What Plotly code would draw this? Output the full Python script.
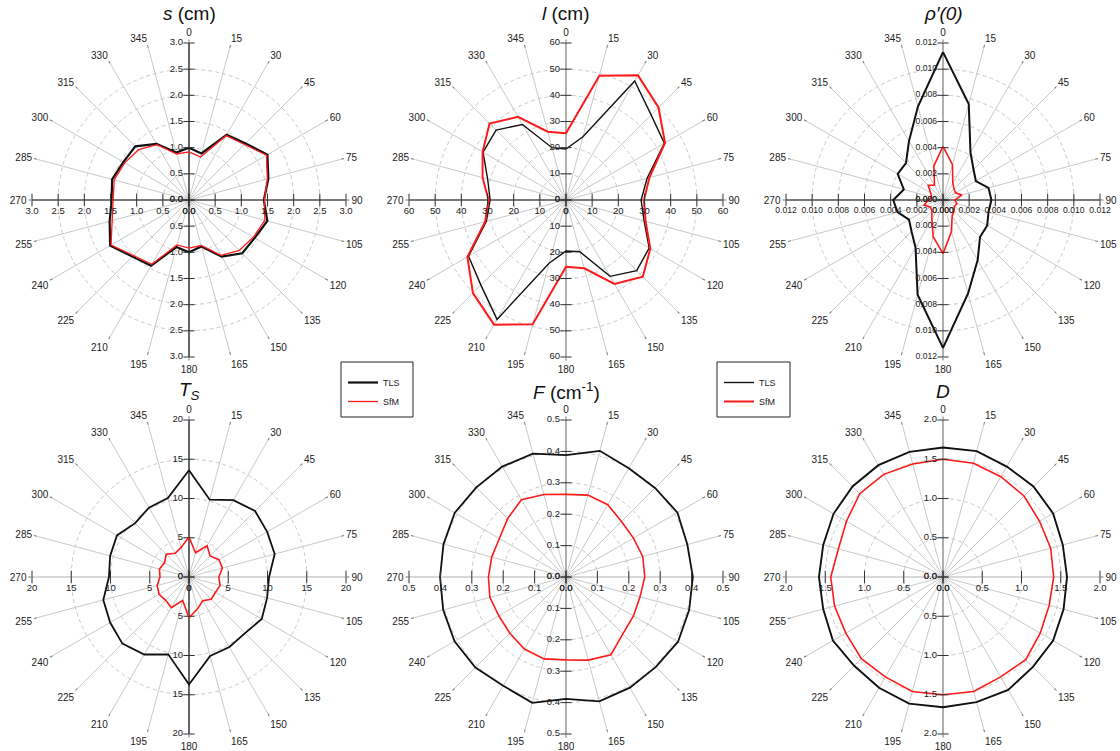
import plotly.graph_objects as go

# ---------------------------------------------------------------------------
# Directions (degrees, clockwise from north) and directional statistics
# ---------------------------------------------------------------------------
ANGLES = list(range(0, 360, 15))
ANGLE_LABELS = [str(a) for a in ANGLES]

# s (cm)
s_tls = [1.00, 0.92, 1.44, 1.53, 1.73, 1.57, 1.43, 1.55, 1.45, 1.44, 1.25, 0.92,
         1.00, 0.93, 1.45, 1.53, 1.74, 1.57, 1.48, 1.52, 1.45, 1.45, 1.24, 0.94]
s_sfm = [0.92, 0.85, 1.42, 1.50, 1.71, 1.55, 1.44, 1.50, 1.42, 1.36, 1.22, 0.90,
         0.92, 0.89, 1.42, 1.50, 1.72, 1.52, 1.45, 1.48, 1.42, 1.36, 1.22, 0.91]

# l (cm)
l_tls = [19.5, 25.0, 52.5, 46.0, 43.4, 32.1, 28.7, 30.9, 36.7, 38.2, 33.7, 20.5,
         19.5, 25.0, 52.7, 46.0, 43.0, 31.5, 29.0, 31.0, 36.6, 37.8, 33.3, 20.7]
l_sfm = [25.5, 49.2, 55.0, 50.0, 43.7, 33.0, 29.8, 31.5, 37.2, 41.5, 37.0, 27.0,
         25.5, 49.2, 55.0, 50.3, 43.5, 32.0, 29.6, 33.0, 36.8, 41.3, 36.7, 27.0]

# rho'(0)
rho_tls = [0.0113, 0.0076, 0.0042, 0.0033, 0.0029, 0.0036, 0.0037, 0.0036,
           0.0039, 0.0040, 0.0053, 0.0074, 0.0113, 0.0075, 0.0042, 0.0034,
           0.0030, 0.0036, 0.0038, 0.0031, 0.0040, 0.0040, 0.0052, 0.0074]
rho_sfm = [0.0041, 0.0028, 0.0015, 0.0012, 0.0011, 0.0015, 0.0009, 0.0011,
           0.0010, 0.0012, 0.0014, 0.0025, 0.0041, 0.0029, 0.0017, 0.0012,
           0.0011, 0.0015, 0.0011, 0.0009, 0.0011, 0.0016, 0.0013, 0.0027]

# T_S
ts_tls = [13.6, 10.2, 11.3, 11.9, 11.5, 11.3, 10.2, 10.3, 10.7, 10.1, 10.3, 10.4,
          13.7, 10.2, 11.4, 12.0, 11.6, 11.3, 10.2, 10.4, 10.6, 9.7, 10.2, 10.4]
ts_sfm = [5.1, 3.2, 4.6, 3.8, 4.4, 4.4, 3.8, 4.1, 3.9, 4.0, 3.5, 4.2,
          5.2, 3.1, 4.5, 4.2, 4.4, 4.2, 3.7, 3.9, 3.6, 4.1, 3.5, 3.9]

# F (cm^-1)
f_tls = [0.388, 0.416, 0.400, 0.401, 0.410, 0.400, 0.404, 0.406, 0.412, 0.405, 0.407, 0.410,
         0.388, 0.415, 0.400, 0.408, 0.410, 0.405, 0.401, 0.404, 0.409, 0.404, 0.406, 0.407]
f_sfm = [0.263, 0.270, 0.266, 0.250, 0.248, 0.253, 0.251, 0.244, 0.248, 0.256, 0.286, 0.274,
         0.264, 0.270, 0.265, 0.253, 0.247, 0.251, 0.247, 0.245, 0.245, 0.263, 0.284, 0.272]

# D
d_tls = [1.65, 1.66, 1.625, 1.63, 1.62, 1.58, 1.58, 1.59, 1.62, 1.62, 1.66, 1.65,
         1.66, 1.67, 1.63, 1.60, 1.62, 1.58, 1.58, 1.58, 1.61, 1.63, 1.645, 1.65]
d_sfm = [1.50, 1.50, 1.475, 1.46, 1.42, 1.42, 1.41, 1.40, 1.43, 1.49, 1.47, 1.51,
         1.50, 1.51, 1.47, 1.47, 1.43, 1.43, 1.43, 1.38, 1.42, 1.50, 1.51, 1.49]

# Radial tick values and their labels
S_TICKS = [0.0, 0.5, 1.0, 1.5, 2.0, 2.5, 3.0]
S_LABELS = ["0.0", "0.5", "1.0", "1.5", "2.0", "2.5", "3.0"]
L_TICKS = [0, 10, 20, 30, 40, 50, 60]
L_LABELS = ["0", "10", "20", "30", "40", "50", "60"]
RHO_TICKS = [0.0, 0.002, 0.004, 0.006, 0.008, 0.010, 0.012]
RHO_LABELS = ["0.000", "0.002", "0.004", "0.006", "0.008", "0.010", "0.012"]
TS_TICKS = [0, 5, 10, 15, 20]
TS_LABELS = ["0", "5", "10", "15", "20"]
F_TICKS = [0.0, 0.1, 0.2, 0.3, 0.4, 0.5]
F_LABELS = ["0.0", "0.1", "0.2", "0.3", "0.4", "0.5"]
D_TICKS = [0.0, 0.5, 1.0, 1.5, 2.0]
D_LABELS = ["0.0", "0.5", "1.0", "1.5", "2.0"]

SERIES_NAMES = ["TLS", "SfM"]

# ---------------------------------------------------------------------------
# Page geometry
# ---------------------------------------------------------------------------
W, H = 1120, 751
RADIUS = 157
FONT = "Liberation Sans, Arial, sans-serif"
GRID = "#c9c9c9"
BLACK = "#111111"
RED = "#ff1a1a"
MIDGRAY = "#8c8c8c"

panels = [
    dict(name="polar", title="<i>s</i> (cm)", cx=189, cy=200, tls=s_tls, sfm=s_sfm,
         ticks=S_TICKS, labels=S_LABELS, vcol=BLACK, hcol=BLACK,
         wt=2.2, ws=1.3, legend="legend", lsize=9.5),
    dict(name="polar2", title="<i>l</i> (cm)", cx=566, cy=200, tls=l_tls, sfm=l_sfm,
         ticks=L_TICKS, labels=L_LABELS, vcol=MIDGRAY, hcol=BLACK,
         wt=1.4, ws=2.0, legend="legend2", lsize=9.5),
    dict(name="polar3", title="<i>ρ′(0)</i>", cx=943, cy=200, tls=rho_tls, sfm=rho_sfm,
         ticks=RHO_TICKS, labels=RHO_LABELS, vcol=MIDGRAY, hcol=BLACK,
         wt=2.0, ws=1.6, legend=None, lsize=8.6),
    dict(name="polar4", title="<i>T<sub>S</sub></i>", cx=189, cy=577, tls=ts_tls, sfm=ts_sfm,
         ticks=TS_TICKS, labels=TS_LABELS, vcol=BLACK, hcol=GRID,
         wt=1.8, ws=1.6, legend=None, lsize=9.5),
    dict(name="polar5", title="<i>F</i> (cm<sup>-1</sup>)", cx=566, cy=577, tls=f_tls, sfm=f_sfm,
         ticks=F_TICKS, labels=F_LABELS, vcol=MIDGRAY, hcol=GRID,
         wt=1.8, ws=1.6, legend=None, lsize=9.5),
    dict(name="polar6", title="<i>D</i>", cx=943, cy=577, tls=d_tls, sfm=d_sfm,
         ticks=D_TICKS, labels=D_LABELS, vcol=MIDGRAY, hcol=GRID,
         wt=1.9, ws=1.6, legend=None, lsize=9.5),
]

fig = go.Figure()
layout_polars = {}
annotations = []


def closed(values):
    return list(values) + [values[0]]


for p in panels:
    rmax = p["ticks"][-1]
    sub = p["name"]

    # square domain centred on the panel centre
    x0 = (p["cx"] - RADIUS) / W
    x1 = (p["cx"] + RADIUS) / W
    y0 = (H - p["cy"] - RADIUS) / H
    y1 = (H - p["cy"] + RADIUS) / H

    layout_polars[sub] = dict(
        domain=dict(x=[x0, x1], y=[y0, y1]),
        bgcolor="white",
        angularaxis=dict(
            rotation=90, direction="clockwise",
            tickmode="array", tickvals=ANGLES, ticktext=ANGLE_LABELS,
            showgrid=True, gridcolor=GRID, gridwidth=1,
            showline=False,
            ticks="outside", ticklen=3, tickcolor="#777777",
            tickfont=dict(family=FONT, size=10, color="#222222"),
        ),
        radialaxis=dict(
            range=[0, rmax], tickmode="array", tickvals=p["ticks"][1:],
            showgrid=True, gridcolor=GRID, gridwidth=1, griddash="4px,3px",
            showticklabels=False, ticks="", showline=False,
        ),
    )

    # cross-shaped value axes
    fig.add_trace(go.Scatterpolar(
        r=[rmax, 0, rmax], theta=[0, 0, 180], mode="lines",
        line=dict(color=p["vcol"], width=1.2), subplot=sub,
        showlegend=False, hoverinfo="skip"))
    fig.add_trace(go.Scatterpolar(
        r=[rmax, 0, rmax], theta=[90, 90, 270], mode="lines",
        line=dict(color=p["hcol"], width=1.2), subplot=sub,
        showlegend=False, hoverinfo="skip"))

    # data series
    for vals, name, color, width in ((p["tls"], SERIES_NAMES[0], BLACK, p["wt"]),
                                     (p["sfm"], SERIES_NAMES[1], RED, p["ws"])):
        if p["legend"]:
            kw = dict(showlegend=True, legend=p["legend"])
        else:
            kw = dict(showlegend=False)
        fig.add_trace(go.Scatterpolar(
            r=closed(vals), theta=closed(ANGLES), mode="lines", name=name,
            line=dict(color=color, width=width), subplot=sub, **kw))

    # radial tick labels along the four arms
    n = len(p["ticks"])
    for theta, sym, pos, size in ((0, "line-ew", "middle left", 8),
                                  (180, "line-ew", "middle left", 8),
                                  (90, "line-ns", "bottom center", 9),
                                  (270, "line-ns", "bottom center", 9)):
        fig.add_trace(go.Scatterpolar(
            r=p["ticks"], theta=[theta] * n, mode="markers+text",
            text=p["labels"], textposition=pos,
            textfont=dict(family=FONT, size=p["lsize"], color="#222222"),
            marker=dict(symbol=sym, size=size, color="#333333",
                        line=dict(color="#333333", width=1)),
            subplot=sub, showlegend=False, hoverinfo="skip"))

    annotations.append(dict(
        text=p["title"], x=p["cx"] / W, y=1 - (p["cy"] - 186) / H,
        xref="paper", yref="paper", xanchor="center", yanchor="middle",
        showarrow=False, font=dict(family=FONT, size=19, color="#111111")))

# legend frames
shapes = []
for bx0, bx1 in ((341, 413), (717, 790)):
    shapes.append(dict(type="rect", xref="paper", yref="paper",
                       x0=bx0 / W, x1=bx1 / W, y0=1 - 417 / H, y1=1 - 362 / H,
                       line=dict(color="#222222", width=1), fillcolor="white",
                       layer="below"))

legend_style = dict(bgcolor="rgba(0,0,0,0)", borderwidth=0, tracegroupgap=0,
                    font=dict(family=FONT, size=9, color="#222222"),
                    xanchor="left", yanchor="top", itemwidth=30)

fig.update_layout(
    width=W, height=H, autosize=False,
    margin=dict(l=0, r=0, t=0, b=0),
    paper_bgcolor="white",
    showlegend=True,
    legend=dict(x=343 / W, y=1 - 368 / H, **legend_style),
    legend2=dict(x=719 / W, y=1 - 368 / H, **legend_style),
    annotations=annotations,
    shapes=shapes,
    **layout_polars,
)

fig.write_html("out.html", config={"displayModeBar": False})
